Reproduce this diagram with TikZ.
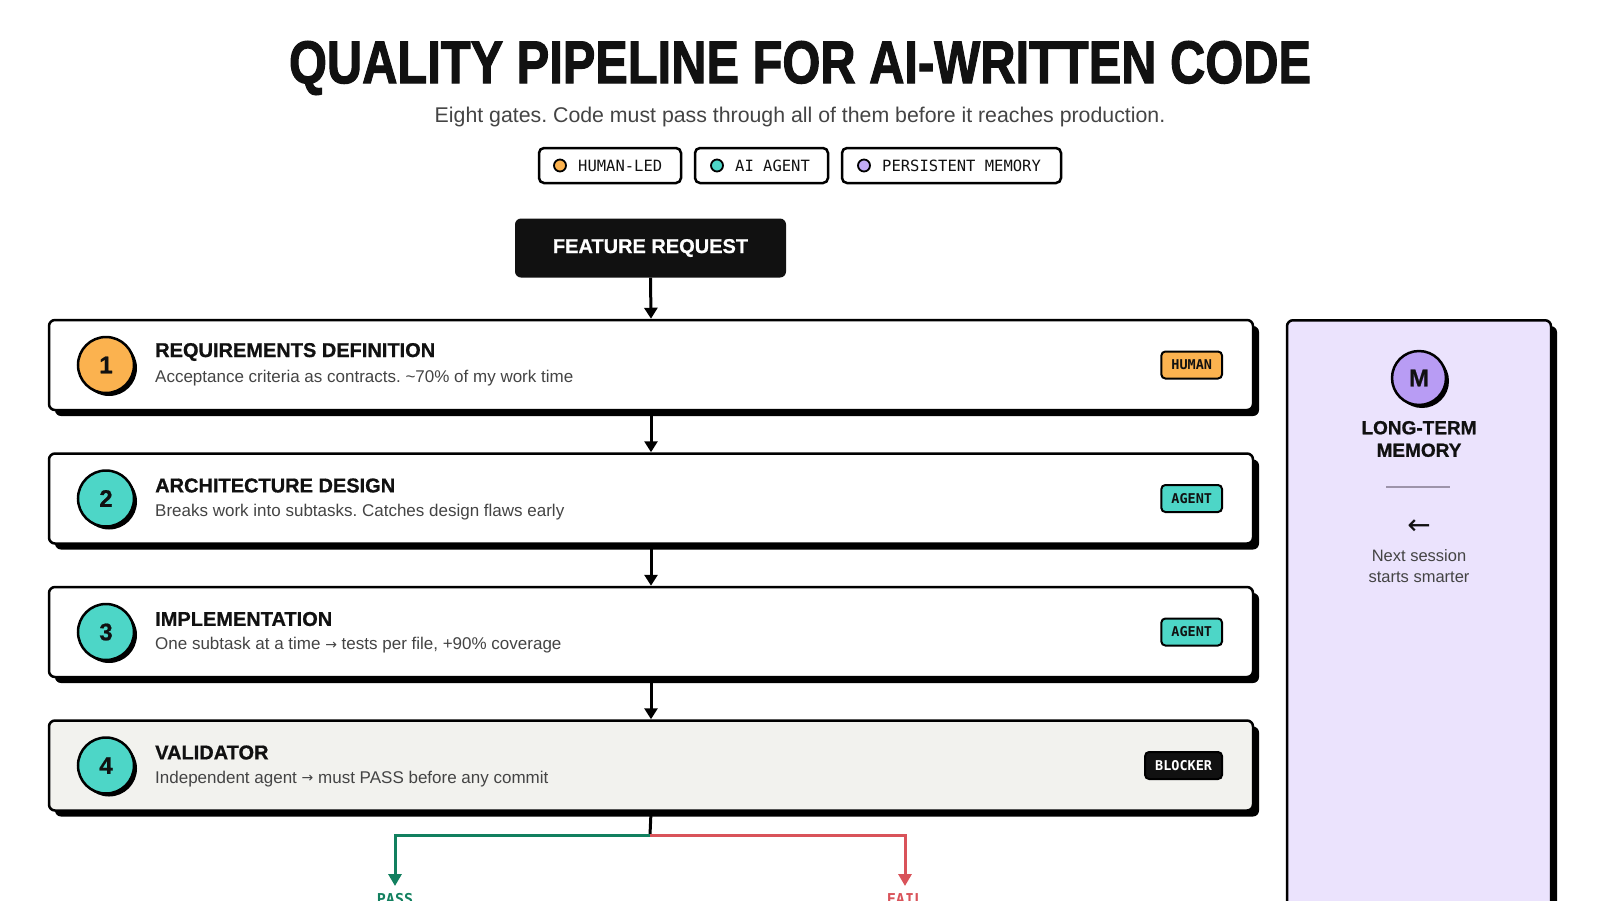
\documentclass[tikz,border=0pt]{standalone}
\usepackage{fontspec}
\usepackage{graphicx}
\setmainfont{Liberation Sans}
\setmonofont{DejaVu Sans Mono}
\newfontfamily\symfont{DejaVu Sans}
\newfontfamily\heavy[FakeBold=2]{Liberation Sans Bold}
\newfontfamily\semiheavy[FakeBold=0.8]{Liberation Sans Bold}
\usetikzlibrary{shadows,arrows.meta,calc}
\frenchspacing
\definecolor{cOrange}{HTML}{FBB24F}
\definecolor{cTeal}{HTML}{4DD6C7}
\definecolor{cPurple}{HTML}{B89CF4}
\definecolor{cPurpleDot}{HTML}{C2ABF6}
\definecolor{cPanel}{HTML}{EBE3FD}
\definecolor{cValid}{HTML}{F2F2EE}
\definecolor{cGreen}{HTML}{12805F}
\definecolor{cRed}{HTML}{D9535A}
\definecolor{cText}{HTML}{111111}
\definecolor{cSub}{HTML}{444444}
\definecolor{cDivider}{HTML}{9D94AA}
\newcommand\fs[2]{\fontsize{#1}{#2}\selectfont}
\tikzset{
  stepbox/.style={draw=black, line width=2.5pt, rounded corners=6pt, fill=white,
    minimum width=1204pt, minimum height=90pt, inner sep=0pt,
    drop shadow={shadow xshift=6pt, shadow yshift=-6pt, fill=black, opacity=1}},
  numcirc/.style={circle, draw=black, line width=2.5pt, minimum size=56pt, inner sep=0pt,
    font=\semiheavy\fs{24}{28}, text=cText,
    drop shadow={shadow xshift=3pt, shadow yshift=-3pt, fill=black, opacity=1}},
  steptitle/.style={anchor=west, inner sep=0pt, font=\semiheavy\fs{20}{24}, text=cText},
  stepdesc/.style={anchor=west, inner sep=0pt, font=\fs{17}{20}, text=cSub},
  badge/.style={anchor=east, draw=black, line width=2pt, rounded corners=4pt,
    minimum height=27pt, inner xsep=10pt, inner ysep=0pt, font=\ttfamily\bfseries\fs{13.5}{15}, text=cText},
  legbox/.style={draw=black, line width=2.5pt, rounded corners=5pt, fill=white,
    minimum height=35pt, inner sep=0pt},
  legdot/.style={circle, draw=black, line width=1.8pt, minimum size=12pt, inner sep=0pt},
  legtext/.style={anchor=west, inner sep=0pt, font=\ttfamily\fs{15.5}{18}, text=cText},
  flow/.style={draw=black, line width=3pt, -{Triangle[length=11pt,width=13pt]}},
}
\begin{document}
\begin{tikzpicture}[x=1pt,y=-1pt]
\useasboundingbox (0,0) rectangle (1600,900);
\clip (0,0) rectangle (1600,900);
\fill[white] (0,0) rectangle (1600,900);

% title
\node[inner sep=0pt, text=cText] (title) at (800,68) {\resizebox{1022pt}{42pt}{\heavy QUALITY PIPELINE FOR AI-WRITTEN CODE}};
\node[inner sep=0pt, font=\fs{21.3}{25}, text=cSub] (subtitle) at (800,117) {Eight gates. Code must pass through all of them before it reaches production.};

% legend
\node[legbox, minimum width=142pt] (leg1) at (610,165.5) {};
\node[legdot, fill=cOrange] (leg1dot) at (560,165.5) {};
\node[legtext] (leg1txt) at (578,165.5) {HUMAN-LED};
\node[legbox, minimum width=133pt] (leg2) at (761.5,165.5) {};
\node[legdot, fill=cTeal] (leg2dot) at (717,165.5) {};
\node[legtext] (leg2txt) at (735,165.5) {AI AGENT};
\node[legbox, minimum width=219pt] (leg3) at (951.5,165.5) {};
\node[legdot, fill=cPurpleDot] (leg3dot) at (864,165.5) {};
\node[legtext] (leg3txt) at (882,165.5) {PERSISTENT MEMORY};

% feature request
\node[fill=cText, rounded corners=6pt, minimum width=271pt, minimum height=59pt, inner sep=0pt,
  text=white, font=\semiheavy\fs{20}{24}] (fr) at (650.5,248) {FEATURE REQUEST};

% steps
\node[stepbox] (s1) at (651,365) {};
\node[numcirc, fill=cOrange] (c1) at (106,365) {1};
\node[steptitle] (t1) at (155,352) {REQUIREMENTS DEFINITION};
\node[stepdesc] (d1) at (155,378.5) {Acceptance criteria as contracts. \textasciitilde70\% of my work time};
\node[badge, fill=cOrange] (b1) at (1223,365) {HUMAN};

\node[stepbox] (s2) at (651,498.5) {};
\node[numcirc, fill=cTeal] (c2) at (106,498.5) {2};
\node[steptitle] (t2) at (155,485.5) {ARCHITECTURE DESIGN};
\node[stepdesc] (d2) at (155,512) {Breaks work into subtasks. Catches design flaws early};
\node[badge, fill=cTeal] (b2) at (1223,498.5) {AGENT};

\node[stepbox] (s3) at (651,632) {};
\node[numcirc, fill=cTeal] (c3) at (106,632) {3};
\node[steptitle] (t3) at (155,619) {IMPLEMENTATION};
\node[stepdesc] (d3) at (155,645.5) {One subtask at a time {\symfont\fs{14}{16}\raisebox{0.5pt}{→}} tests per file, +90\% coverage};
\node[badge, fill=cTeal] (b3) at (1223,632) {AGENT};

\node[stepbox, fill=cValid] (s4) at (651,765.5) {};
\node[numcirc, fill=cTeal] (c4) at (106,765.5) {4};
\node[steptitle] (t4) at (155,752.5) {VALIDATOR};
\node[stepdesc] (d4) at (155,779) {Independent agent {\symfont\fs{14}{16}\raisebox{0.5pt}{→}} must PASS before any commit};
\node[badge, fill=cText, text=white] (b4) at (1223,765.5) {BLOCKER};

% flow arrows
\draw[flow] (fr.south) -- (s1.north);
\draw[flow] (s1.south) -- (s2.north);
\draw[flow] (s2.south) -- (s3.north);
\draw[flow] (s3.south) -- (s4.north);

% branch
\coordinate (split) at (650,835);
\coordinate (passc) at (395,835);
\coordinate (failc) at (905,835);
\node[inner sep=0pt, anchor=north, font=\ttfamily\bfseries\fs{15}{18}, text=cGreen] (pass) at (395,893) {PASS};
\node[inner sep=0pt, anchor=north, font=\ttfamily\bfseries\fs{15}{18}, text=cRed] (fail) at (905,893) {FAIL};
\draw[black, line width=3pt] (s4.south) -- (split);
\draw[cGreen, line width=3pt, -{Triangle[length=12pt,width=13pt]}] (split) -- (passc) -- (395,886);
\draw[cRed, line width=3pt, -{Triangle[length=12pt,width=13pt]}] (split) -- (failc) -- (905,886);

% memory panel
\node[draw=black, line width=2.5pt, rounded corners=6pt, fill=cPanel, minimum width=264pt, minimum height=640pt,
  anchor=north, inner sep=0pt,
  drop shadow={shadow xshift=6pt, shadow yshift=-6pt, fill=black, opacity=1}] (mem) at (1419,319) {};
\node[numcirc, fill=cPurple, minimum size=54pt] (mc) at (1419,378) {M};
\node[inner sep=0pt, align=center, font=\semiheavy\fs{19}{22.5}, text=cText] (mtitle) at (1419,439) {LONG-TERM\\MEMORY};
\draw[cDivider, line width=2.5pt] (1386,487) -- (1450,487);
\node[inner sep=0pt, font=\symfont\fs{28}{30}, text=cText] (marrow) at (1419,527) {←};
\node[inner sep=0pt, align=center, font=\fs{16.5}{21.5}, text=cSub] (mtext) at (1419,566) {Next session\\starts smarter};
\end{tikzpicture}
\end{document}
